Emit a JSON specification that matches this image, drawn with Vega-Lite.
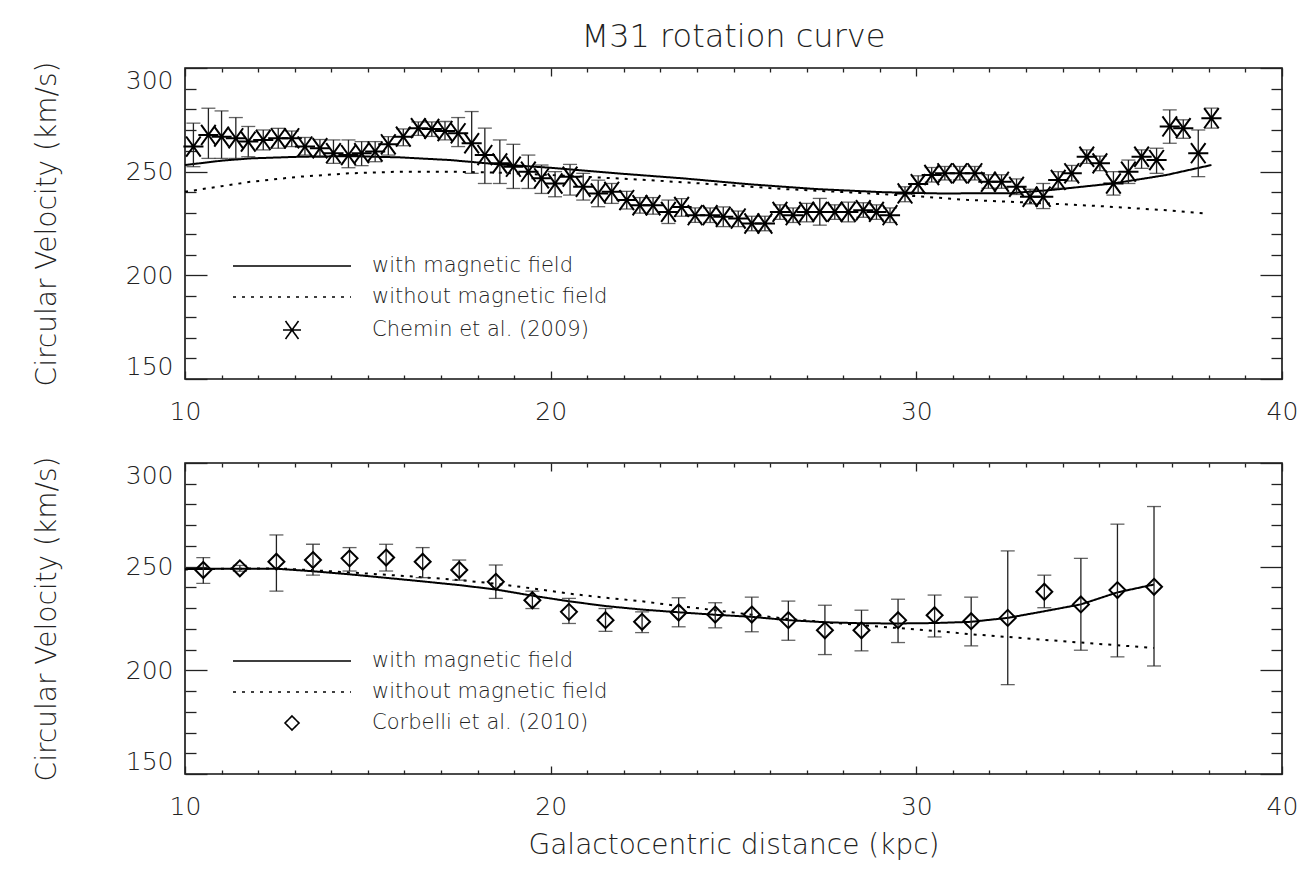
{
  "$schema": "https://vega.github.io/schema/vega-lite/v6.json",
  "background": "white",
  "padding": {"left": 32, "top": 21, "right": 2, "bottom": 0},
  "title": {"text": "M31 rotation curve", "fontSize": 32, "font": "DejaVu Sans", "fontWeight": 200, "color": "#222", "anchor": "middle", "frame": "group", "offset": 6},
  "spacing": 84,
  "bounds": "flush",
  "resolve": {"scale": {"shape": "independent", "strokeDash": "independent"}, "legend": {"shape": "independent", "strokeDash": "independent"}},
  "datasets": {
    "model_top": [
      {"x": 10, "v": 253.2, "series": "with magnetic field"},
      {"x": 11, "v": 255.3, "series": "with magnetic field"},
      {"x": 11.78, "v": 256.4, "series": "with magnetic field"},
      {"x": 13.15, "v": 257.2, "series": "with magnetic field"},
      {"x": 14.5, "v": 257.5, "series": "with magnetic field"},
      {"x": 15.88, "v": 256.9, "series": "with magnetic field"},
      {"x": 17.25, "v": 255.6, "series": "with magnetic field"},
      {"x": 18.6, "v": 253.5, "series": "with magnetic field"},
      {"x": 19.98, "v": 251.9, "series": "with magnetic field"},
      {"x": 21.8, "v": 249.2, "series": "with magnetic field"},
      {"x": 23.6, "v": 246.8, "series": "with magnetic field"},
      {"x": 25.45, "v": 243.9, "series": "with magnetic field"},
      {"x": 27.27, "v": 241.6, "series": "with magnetic field"},
      {"x": 29.09, "v": 240.1, "series": "with magnetic field"},
      {"x": 30.65, "v": 239.5, "series": "with magnetic field"},
      {"x": 32.56, "v": 239.6, "series": "with magnetic field"},
      {"x": 33.65, "v": 241.1, "series": "with magnetic field"},
      {"x": 35.38, "v": 244.3, "series": "with magnetic field"},
      {"x": 36.84, "v": 248.4, "series": "with magnetic field"},
      {"x": 38.07, "v": 253.2, "series": "with magnetic field"},
      {"x": 10, "v": 240.3, "series": "without magnetic field"},
      {"x": 11, "v": 243.0, "series": "without magnetic field"},
      {"x": 11.78, "v": 245.1, "series": "without magnetic field"},
      {"x": 13.15, "v": 247.6, "series": "without magnetic field"},
      {"x": 14.5, "v": 249.2, "series": "without magnetic field"},
      {"x": 15.88, "v": 250.0, "series": "without magnetic field"},
      {"x": 17.25, "v": 250.0, "series": "without magnetic field"},
      {"x": 18.6, "v": 249.5, "series": "without magnetic field"},
      {"x": 19.98, "v": 248.4, "series": "without magnetic field"},
      {"x": 20.9, "v": 247.6, "series": "without magnetic field"},
      {"x": 22.7, "v": 245.9, "series": "without magnetic field"},
      {"x": 24.5, "v": 243.9, "series": "without magnetic field"},
      {"x": 26.4, "v": 241.6, "series": "without magnetic field"},
      {"x": 28.2, "v": 240.0, "series": "without magnetic field"},
      {"x": 30.0, "v": 238.2, "series": "without magnetic field"},
      {"x": 31.37, "v": 236.4, "series": "without magnetic field"},
      {"x": 33.2, "v": 235.0, "series": "without magnetic field"},
      {"x": 35.02, "v": 233.4, "series": "without magnetic field"},
      {"x": 36.84, "v": 231.4, "series": "without magnetic field"},
      {"x": 37.9, "v": 229.8, "series": "without magnetic field"}
    ],
    "chemin": [
      {"x": 10.23, "v": 262.1, "lo": 252.4, "hi": 273.4, "series": "Chemin et al. (2009)"},
      {"x": 10.64, "v": 267.7, "lo": 256.4, "hi": 280.6, "series": "Chemin et al. (2009)"},
      {"x": 11.0, "v": 266.9, "lo": 256.4, "hi": 279.3, "series": "Chemin et al. (2009)"},
      {"x": 11.39, "v": 266.1, "lo": 256.4, "hi": 276.1, "series": "Chemin et al. (2009)"},
      {"x": 11.73, "v": 264.5, "lo": 257.2, "hi": 271.8, "series": "Chemin et al. (2009)"},
      {"x": 12.14, "v": 265.3, "lo": 260.5, "hi": 270.1, "series": "Chemin et al. (2009)"},
      {"x": 12.55, "v": 266.1, "lo": 261.3, "hi": 270.9, "series": "Chemin et al. (2009)"},
      {"x": 12.92, "v": 266.1, "lo": 262.1, "hi": 269.6, "series": "Chemin et al. (2009)"},
      {"x": 13.28, "v": 262.1, "lo": 258.0, "hi": 266.5, "series": "Chemin et al. (2009)"},
      {"x": 13.69, "v": 261.3, "lo": 257.0, "hi": 265.5, "series": "Chemin et al. (2009)"},
      {"x": 14.06, "v": 258.9, "lo": 254.0, "hi": 265.3, "series": "Chemin et al. (2009)"},
      {"x": 14.47, "v": 258.0, "lo": 251.9, "hi": 265.3, "series": "Chemin et al. (2009)"},
      {"x": 14.83, "v": 258.9, "lo": 252.9, "hi": 264.5, "series": "Chemin et al. (2009)"},
      {"x": 15.2, "v": 259.7, "lo": 254.8, "hi": 264.5, "series": "Chemin et al. (2009)"},
      {"x": 15.56, "v": 263.2, "lo": 258.0, "hi": 266.9, "series": "Chemin et al. (2009)"},
      {"x": 15.97, "v": 266.9, "lo": 262.5, "hi": 270.6, "series": "Chemin et al. (2009)"},
      {"x": 16.38, "v": 271.0, "lo": 267.5, "hi": 274.0, "series": "Chemin et al. (2009)"},
      {"x": 16.75, "v": 270.6, "lo": 267.0, "hi": 274.0, "series": "Chemin et al. (2009)"},
      {"x": 17.11, "v": 269.6, "lo": 265.3, "hi": 274.2, "series": "Chemin et al. (2009)"},
      {"x": 17.47, "v": 268.5, "lo": 262.1, "hi": 276.1, "series": "Chemin et al. (2009)"},
      {"x": 17.84, "v": 263.7, "lo": 249.2, "hi": 279.0, "series": "Chemin et al. (2009)"},
      {"x": 18.2, "v": 258.0, "lo": 244.3, "hi": 271.0, "series": "Chemin et al. (2009)"},
      {"x": 18.61, "v": 254.0, "lo": 244.3, "hi": 265.3, "series": "Chemin et al. (2009)"},
      {"x": 18.98, "v": 252.4, "lo": 241.9, "hi": 263.2, "series": "Chemin et al. (2009)"},
      {"x": 19.39, "v": 250.0, "lo": 241.9, "hi": 258.0, "series": "Chemin et al. (2009)"},
      {"x": 19.75, "v": 246.8, "lo": 239.5, "hi": 253.2, "series": "Chemin et al. (2009)"},
      {"x": 20.12, "v": 244.3, "lo": 237.9, "hi": 250.0, "series": "Chemin et al. (2009)"},
      {"x": 20.53, "v": 247.6, "lo": 238.7, "hi": 253.5, "series": "Chemin et al. (2009)"},
      {"x": 20.89, "v": 242.7, "lo": 236.3, "hi": 249.2, "series": "Chemin et al. (2009)"},
      {"x": 21.3, "v": 239.5, "lo": 233.1, "hi": 245.9, "series": "Chemin et al. (2009)"},
      {"x": 21.67, "v": 240.3, "lo": 234.7, "hi": 244.3, "series": "Chemin et al. (2009)"},
      {"x": 22.08, "v": 236.3, "lo": 232.0, "hi": 240.5, "series": "Chemin et al. (2009)"},
      {"x": 22.44, "v": 233.8, "lo": 230.0, "hi": 237.5, "series": "Chemin et al. (2009)"},
      {"x": 22.8, "v": 233.8, "lo": 229.5, "hi": 237.5, "series": "Chemin et al. (2009)"},
      {"x": 23.22, "v": 230.6, "lo": 225.0, "hi": 236.3, "series": "Chemin et al. (2009)"},
      {"x": 23.58, "v": 233.0, "lo": 228.5, "hi": 237.0, "series": "Chemin et al. (2009)"},
      {"x": 23.95, "v": 229.0, "lo": 225.5, "hi": 232.5, "series": "Chemin et al. (2009)"},
      {"x": 24.36, "v": 229.0, "lo": 225.5, "hi": 232.5, "series": "Chemin et al. (2009)"},
      {"x": 24.72, "v": 228.2, "lo": 223.5, "hi": 233.0, "series": "Chemin et al. (2009)"},
      {"x": 25.13, "v": 227.4, "lo": 223.5, "hi": 231.0, "series": "Chemin et al. (2009)"},
      {"x": 25.5, "v": 225.0, "lo": 221.5, "hi": 228.5, "series": "Chemin et al. (2009)"},
      {"x": 25.86, "v": 225.0, "lo": 221.5, "hi": 228.5, "series": "Chemin et al. (2009)"},
      {"x": 26.27, "v": 230.6, "lo": 227.0, "hi": 234.0, "series": "Chemin et al. (2009)"},
      {"x": 26.63, "v": 229.0, "lo": 225.5, "hi": 232.5, "series": "Chemin et al. (2009)"},
      {"x": 27.0, "v": 230.6, "lo": 225.8, "hi": 234.7, "series": "Chemin et al. (2009)"},
      {"x": 27.36, "v": 230.6, "lo": 224.2, "hi": 237.1, "series": "Chemin et al. (2009)"},
      {"x": 27.77, "v": 230.6, "lo": 227.0, "hi": 234.0, "series": "Chemin et al. (2009)"},
      {"x": 28.14, "v": 230.6, "lo": 225.8, "hi": 235.3, "series": "Chemin et al. (2009)"},
      {"x": 28.55, "v": 231.4, "lo": 228.0, "hi": 235.0, "series": "Chemin et al. (2009)"},
      {"x": 28.91, "v": 230.6, "lo": 227.0, "hi": 234.0, "series": "Chemin et al. (2009)"},
      {"x": 29.28, "v": 229.0, "lo": 225.5, "hi": 232.5, "series": "Chemin et al. (2009)"},
      {"x": 29.69, "v": 239.5, "lo": 235.5, "hi": 242.7, "series": "Chemin et al. (2009)"},
      {"x": 30.05, "v": 244.0, "lo": 240.0, "hi": 248.0, "series": "Chemin et al. (2009)"},
      {"x": 30.42, "v": 248.4, "lo": 245.0, "hi": 252.0, "series": "Chemin et al. (2009)"},
      {"x": 30.78, "v": 249.2, "lo": 246.0, "hi": 252.5, "series": "Chemin et al. (2009)"},
      {"x": 31.19, "v": 249.2, "lo": 246.0, "hi": 252.5, "series": "Chemin et al. (2009)"},
      {"x": 31.6, "v": 249.2, "lo": 246.0, "hi": 252.5, "series": "Chemin et al. (2009)"},
      {"x": 31.97, "v": 245.1, "lo": 242.0, "hi": 248.5, "series": "Chemin et al. (2009)"},
      {"x": 32.33, "v": 245.1, "lo": 242.0, "hi": 248.5, "series": "Chemin et al. (2009)"},
      {"x": 32.74, "v": 242.7, "lo": 239.0, "hi": 246.5, "series": "Chemin et al. (2009)"},
      {"x": 33.11, "v": 237.9, "lo": 234.5, "hi": 241.5, "series": "Chemin et al. (2009)"},
      {"x": 33.47, "v": 237.9, "lo": 232.2, "hi": 244.3, "series": "Chemin et al. (2009)"},
      {"x": 33.88, "v": 246.0, "lo": 242.0, "hi": 250.0, "series": "Chemin et al. (2009)"},
      {"x": 34.25, "v": 249.2, "lo": 245.5, "hi": 253.0, "series": "Chemin et al. (2009)"},
      {"x": 34.66, "v": 257.2, "lo": 254.0, "hi": 260.5, "series": "Chemin et al. (2009)"},
      {"x": 35.02, "v": 254.0, "lo": 250.5, "hi": 257.5, "series": "Chemin et al. (2009)"},
      {"x": 35.39, "v": 244.3, "lo": 238.7, "hi": 250.0, "series": "Chemin et al. (2009)"},
      {"x": 35.8, "v": 250.0, "lo": 244.3, "hi": 255.6, "series": "Chemin et al. (2009)"},
      {"x": 36.16, "v": 257.2, "lo": 251.6, "hi": 260.5, "series": "Chemin et al. (2009)"},
      {"x": 36.57, "v": 255.6, "lo": 249.2, "hi": 261.3, "series": "Chemin et al. (2009)"},
      {"x": 36.93, "v": 271.8, "lo": 263.7, "hi": 279.8, "series": "Chemin et al. (2009)"},
      {"x": 37.3, "v": 271.0, "lo": 266.1, "hi": 275.0, "series": "Chemin et al. (2009)"},
      {"x": 37.71, "v": 258.9, "lo": 247.6, "hi": 270.1, "series": "Chemin et al. (2009)"},
      {"x": 38.07, "v": 275.8, "lo": 271.0, "hi": 280.6, "series": "Chemin et al. (2009)"}
    ],
    "model_bot": [
      {"x": 10, "v": 248.8, "series": "with magnetic field"},
      {"x": 11, "v": 249.0, "series": "with magnetic field"},
      {"x": 12.5, "v": 249.0, "series": "with magnetic field"},
      {"x": 13.5, "v": 247.8, "series": "with magnetic field"},
      {"x": 14.5, "v": 246.3, "series": "with magnetic field"},
      {"x": 15.5, "v": 244.6, "series": "with magnetic field"},
      {"x": 16.5, "v": 242.9, "series": "with magnetic field"},
      {"x": 17.5, "v": 241.1, "series": "with magnetic field"},
      {"x": 18.5, "v": 239.0, "series": "with magnetic field"},
      {"x": 19.5, "v": 236.0, "series": "with magnetic field"},
      {"x": 20.5, "v": 233.3, "series": "with magnetic field"},
      {"x": 21.5, "v": 231.0, "series": "with magnetic field"},
      {"x": 22.5, "v": 229.3, "series": "with magnetic field"},
      {"x": 23.5, "v": 228.0, "series": "with magnetic field"},
      {"x": 24.5, "v": 226.8, "series": "with magnetic field"},
      {"x": 25.5, "v": 225.8, "series": "with magnetic field"},
      {"x": 26.5, "v": 224.2, "series": "with magnetic field"},
      {"x": 27.5, "v": 223.2, "series": "with magnetic field"},
      {"x": 28.5, "v": 222.7, "series": "with magnetic field"},
      {"x": 29.5, "v": 222.6, "series": "with magnetic field"},
      {"x": 30.5, "v": 222.8, "series": "with magnetic field"},
      {"x": 31.5, "v": 223.4, "series": "with magnetic field"},
      {"x": 32.5, "v": 225.3, "series": "with magnetic field"},
      {"x": 33.5, "v": 228.5, "series": "with magnetic field"},
      {"x": 34.5, "v": 231.8, "series": "with magnetic field"},
      {"x": 35.5, "v": 237.6, "series": "with magnetic field"},
      {"x": 36.5, "v": 241.4, "series": "with magnetic field"},
      {"x": 10, "v": 248.8, "series": "without magnetic field"},
      {"x": 12.5, "v": 249.2, "series": "without magnetic field"},
      {"x": 13.5, "v": 248.3, "series": "without magnetic field"},
      {"x": 14.5, "v": 247.2, "series": "without magnetic field"},
      {"x": 15.5, "v": 246.1, "series": "without magnetic field"},
      {"x": 16.5, "v": 244.9, "series": "without magnetic field"},
      {"x": 17.5, "v": 243.5, "series": "without magnetic field"},
      {"x": 18.5, "v": 241.8, "series": "without magnetic field"},
      {"x": 19.5, "v": 239.5, "series": "without magnetic field"},
      {"x": 20.5, "v": 237.0, "series": "without magnetic field"},
      {"x": 21.5, "v": 235.0, "series": "without magnetic field"},
      {"x": 22.5, "v": 233.3, "series": "without magnetic field"},
      {"x": 23.5, "v": 231.0, "series": "without magnetic field"},
      {"x": 24.5, "v": 229.0, "series": "without magnetic field"},
      {"x": 25.5, "v": 226.8, "series": "without magnetic field"},
      {"x": 26.5, "v": 224.8, "series": "without magnetic field"},
      {"x": 27.5, "v": 223.2, "series": "without magnetic field"},
      {"x": 28.5, "v": 221.8, "series": "without magnetic field"},
      {"x": 29.5, "v": 220.4, "series": "without magnetic field"},
      {"x": 30.5, "v": 219.0, "series": "without magnetic field"},
      {"x": 31.5, "v": 217.4, "series": "without magnetic field"},
      {"x": 32.5, "v": 216.1, "series": "without magnetic field"},
      {"x": 33.5, "v": 214.7, "series": "without magnetic field"},
      {"x": 34.5, "v": 213.4, "series": "without magnetic field"},
      {"x": 35.5, "v": 212.1, "series": "without magnetic field"},
      {"x": 36.5, "v": 210.8, "series": "without magnetic field"}
    ],
    "corbelli": [
      {"x": 10.5, "v": 248.4, "lo": 241.9, "hi": 254.4, "series": "Corbelli et al. (2010)"},
      {"x": 11.5, "v": 249.2, "lo": 247.8, "hi": 250.6, "series": "Corbelli et al. (2010)"},
      {"x": 12.5, "v": 252.4, "lo": 238.2, "hi": 265.3, "series": "Corbelli et al. (2010)"},
      {"x": 13.5, "v": 253.2, "lo": 245.9, "hi": 260.8, "series": "Corbelli et al. (2010)"},
      {"x": 14.5, "v": 254.0, "lo": 247.9, "hi": 259.2, "series": "Corbelli et al. (2010)"},
      {"x": 15.5, "v": 254.4, "lo": 247.9, "hi": 260.8, "series": "Corbelli et al. (2010)"},
      {"x": 16.5, "v": 252.4, "lo": 244.7, "hi": 259.2, "series": "Corbelli et al. (2010)"},
      {"x": 17.5, "v": 248.4, "lo": 243.5, "hi": 253.2, "series": "Corbelli et al. (2010)"},
      {"x": 18.5, "v": 242.7, "lo": 234.7, "hi": 250.8, "series": "Corbelli et al. (2010)"},
      {"x": 19.5, "v": 233.8, "lo": 229.8, "hi": 238.2, "series": "Corbelli et al. (2010)"},
      {"x": 20.5, "v": 228.2, "lo": 222.6, "hi": 234.7, "series": "Corbelli et al. (2010)"},
      {"x": 21.5, "v": 224.2, "lo": 218.8, "hi": 229.8, "series": "Corbelli et al. (2010)"},
      {"x": 22.5, "v": 223.4, "lo": 218.2, "hi": 228.2, "series": "Corbelli et al. (2010)"},
      {"x": 23.5, "v": 227.9, "lo": 221.0, "hi": 235.0, "series": "Corbelli et al. (2010)"},
      {"x": 24.5, "v": 226.9, "lo": 220.5, "hi": 232.6, "series": "Corbelli et al. (2010)"},
      {"x": 25.5, "v": 226.9, "lo": 218.6, "hi": 235.3, "series": "Corbelli et al. (2010)"},
      {"x": 26.5, "v": 224.2, "lo": 214.5, "hi": 233.4, "series": "Corbelli et al. (2010)"},
      {"x": 27.5, "v": 219.3, "lo": 207.6, "hi": 231.4, "series": "Corbelli et al. (2010)"},
      {"x": 28.5, "v": 219.3, "lo": 209.4, "hi": 229.0, "series": "Corbelli et al. (2010)"},
      {"x": 29.5, "v": 224.2, "lo": 213.4, "hi": 234.3, "series": "Corbelli et al. (2010)"},
      {"x": 30.5, "v": 226.6, "lo": 216.1, "hi": 236.3, "series": "Corbelli et al. (2010)"},
      {"x": 31.5, "v": 223.7, "lo": 211.8, "hi": 235.3, "series": "Corbelli et al. (2010)"},
      {"x": 32.5, "v": 225.3, "lo": 193.1, "hi": 257.6, "series": "Corbelli et al. (2010)"},
      {"x": 33.5, "v": 237.9, "lo": 230.2, "hi": 245.9, "series": "Corbelli et al. (2010)"},
      {"x": 34.5, "v": 231.8, "lo": 209.7, "hi": 254.0, "series": "Corbelli et al. (2010)"},
      {"x": 35.5, "v": 238.7, "lo": 206.5, "hi": 270.5, "series": "Corbelli et al. (2010)"},
      {"x": 36.5, "v": 240.3, "lo": 202.1, "hi": 279.0, "series": "Corbelli et al. (2010)"}
    ]
  },
  "vconcat": [
    {
      "width": 1097,
      "height": 311,
      "layer": [
        {
          "data": {"name": "model_top"},
          "mark": {"type": "line", "color": "black", "strokeWidth": 2},
          "encoding": {
            "x": {"field": "x", "type": "quantitative", "scale": {"domain": [10, 40], "nice": false, "zero": false},
                  "axis": {"orient": "bottom", "values": [10, 20, 30, 40], "ticks": false, "labelFlush": false, "labelPadding": 20, "title": null}},
            "y": {"field": "v", "type": "quantitative", "scale": {"domain": [150, 300], "nice": false, "zero": false},
                  "axis": {"orient": "left", "values": [150, 200, 250, 300], "ticks": false, "labelFlush": true, "labelPadding": 12, "title": "Circular Velocity (km/s)", "titlePadding": 64}},
            "strokeDash": {"field": "series", "type": "nominal",
                  "scale": {"domain": ["with magnetic field", "without magnetic field", "Chemin et al. (2009)"], "range": [[1, 0], [3, 6], [1, 0]]},
                  "legend": {"title": null}}
          }
        },
        {
          "data": {"name": "chemin"},
          "mark": {"type": "rule", "color": "#222", "strokeWidth": 1.3},
          "encoding": {
            "x": {"field": "x", "type": "quantitative", "scale": {"domain": [10, 40], "nice": false, "zero": false},
                  "axis": {"orient": "bottom", "values": [10, 20, 30, 40], "labels": false, "tickSize": 8, "offset": -8, "title": null}},
            "y": {"field": "lo", "type": "quantitative", "scale": {"domain": [150, 300], "nice": false, "zero": false},
                  "axis": {"orient": "left", "values": [150, 200, 250, 300], "labels": false, "tickSize": 22, "offset": -22, "title": null}},
            "y2": {"field": "hi"}
          }
        },
        {
          "data": {"name": "chemin"},
          "mark": {"type": "tick", "orient": "horizontal", "size": 14, "thickness": 1.3, "color": "#222"},
          "encoding": {
            "x": {"field": "x", "type": "quantitative", "scale": {"domain": [10, 40], "nice": false, "zero": false},
                  "axis": {"orient": "bottom", "values": [11, 12, 13, 14, 15, 16, 17, 18, 19, 21, 22, 23, 24, 25, 26, 27, 28, 29, 31, 32, 33, 34, 35, 36, 37, 38, 39], "labels": false, "tickSize": 4, "offset": -4, "title": null}},
            "y": {"field": "lo", "type": "quantitative", "scale": {"domain": [150, 300], "nice": false, "zero": false},
                  "axis": {"orient": "left", "values": [160, 170, 180, 190, 210, 220, 230, 240, 260, 270, 280, 290], "labels": false, "tickSize": 11, "offset": -11, "title": null}}
          }
        },
        {
          "data": {"name": "chemin"},
          "mark": {"type": "tick", "orient": "horizontal", "size": 14, "thickness": 1.3, "color": "#222"},
          "encoding": {
            "x": {"field": "x", "type": "quantitative", "scale": {"domain": [10, 40], "nice": false, "zero": false},
                  "axis": {"orient": "top", "values": [10, 20, 30, 40], "labels": false, "tickSize": 8, "offset": -8, "title": null}},
            "y": {"field": "hi", "type": "quantitative", "scale": {"domain": [150, 300], "nice": false, "zero": false},
                  "axis": {"orient": "right", "values": [150, 200, 250, 300], "labels": false, "tickSize": 22, "offset": -22, "title": null}}
          }
        },
        {
          "data": {"name": "chemin"},
          "mark": {"type": "point", "filled": false, "size": 500, "strokeWidth": 2, "color": "black", "opacity": 1},
          "encoding": {
            "x": {"field": "x", "type": "quantitative", "scale": {"domain": [10, 40], "nice": false, "zero": false},
                  "axis": {"orient": "top", "values": [11, 12, 13, 14, 15, 16, 17, 18, 19, 21, 22, 23, 24, 25, 26, 27, 28, 29, 31, 32, 33, 34, 35, 36, 37, 38, 39], "labels": false, "tickSize": 4, "offset": -4, "title": null}},
            "y": {"field": "v", "type": "quantitative", "scale": {"domain": [150, 300], "nice": false, "zero": false},
                  "axis": {"orient": "right", "values": [160, 170, 180, 190, 210, 220, 230, 240, 260, 270, 280, 290], "labels": false, "tickSize": 11, "offset": -11, "title": null}},
            "shape": {"field": "series", "type": "nominal",
                  "scale": {"domain": ["with magnetic field", "without magnetic field", "Chemin et al. (2009)"], "range": ["M-5.9,0H5.9", "M-5.9,0H5.9", "M-0.9,0H0.9M-0.65,-0.9L0.65,0.9M-0.65,0.9L0.65,-0.9"]},
                  "legend": {"title": null}}
          }
        }
      ],
      "resolve": {"axis": {"x": "independent", "y": "independent"}}
    },
    {
      "width": 1097,
      "height": 311,
      "layer": [
        {
          "data": {"name": "model_bot"},
          "mark": {"type": "line", "color": "black", "strokeWidth": 2},
          "encoding": {
            "x": {"field": "x", "type": "quantitative", "scale": {"domain": [10, 40], "nice": false, "zero": false},
                  "axis": {"orient": "bottom", "values": [10, 20, 30, 40], "ticks": false, "labelFlush": false, "labelPadding": 20, "title": "Galactocentric distance (kpc)", "titlePadding": 12}},
            "y": {"field": "v", "type": "quantitative", "scale": {"domain": [150, 300], "nice": false, "zero": false},
                  "axis": {"orient": "left", "values": [150, 200, 250, 300], "ticks": false, "labelFlush": true, "labelPadding": 12, "title": "Circular Velocity (km/s)", "titlePadding": 64}},
            "strokeDash": {"field": "series", "type": "nominal",
                  "scale": {"domain": ["with magnetic field", "without magnetic field", "Corbelli et al. (2010)"], "range": [[1, 0], [3, 6], [1, 0]]},
                  "legend": {"title": null}}
          }
        },
        {
          "data": {"name": "corbelli"},
          "mark": {"type": "rule", "color": "#222", "strokeWidth": 1.3},
          "encoding": {
            "x": {"field": "x", "type": "quantitative", "scale": {"domain": [10, 40], "nice": false, "zero": false},
                  "axis": {"orient": "bottom", "values": [10, 20, 30, 40], "labels": false, "tickSize": 8, "offset": -8, "title": null}},
            "y": {"field": "lo", "type": "quantitative", "scale": {"domain": [150, 300], "nice": false, "zero": false},
                  "axis": {"orient": "left", "values": [150, 200, 250, 300], "labels": false, "tickSize": 22, "offset": -22, "title": null}},
            "y2": {"field": "hi"}
          }
        },
        {
          "data": {"name": "corbelli"},
          "mark": {"type": "tick", "orient": "horizontal", "size": 14, "thickness": 1.3, "color": "#222"},
          "encoding": {
            "x": {"field": "x", "type": "quantitative", "scale": {"domain": [10, 40], "nice": false, "zero": false},
                  "axis": {"orient": "bottom", "values": [11, 12, 13, 14, 15, 16, 17, 18, 19, 21, 22, 23, 24, 25, 26, 27, 28, 29, 31, 32, 33, 34, 35, 36, 37, 38, 39], "labels": false, "tickSize": 4, "offset": -4, "title": null}},
            "y": {"field": "lo", "type": "quantitative", "scale": {"domain": [150, 300], "nice": false, "zero": false},
                  "axis": {"orient": "left", "values": [160, 170, 180, 190, 210, 220, 230, 240, 260, 270, 280, 290], "labels": false, "tickSize": 11, "offset": -11, "title": null}}
          }
        },
        {
          "data": {"name": "corbelli"},
          "mark": {"type": "tick", "orient": "horizontal", "size": 14, "thickness": 1.3, "color": "#222"},
          "encoding": {
            "x": {"field": "x", "type": "quantitative", "scale": {"domain": [10, 40], "nice": false, "zero": false},
                  "axis": {"orient": "top", "values": [10, 20, 30, 40], "labels": false, "tickSize": 8, "offset": -8, "title": null}},
            "y": {"field": "hi", "type": "quantitative", "scale": {"domain": [150, 300], "nice": false, "zero": false},
                  "axis": {"orient": "right", "values": [150, 200, 250, 300], "labels": false, "tickSize": 22, "offset": -22, "title": null}}
          }
        },
        {
          "data": {"name": "corbelli"},
          "mark": {"type": "point", "filled": false, "size": 520, "strokeWidth": 2, "color": "black", "opacity": 1},
          "encoding": {
            "x": {"field": "x", "type": "quantitative", "scale": {"domain": [10, 40], "nice": false, "zero": false},
                  "axis": {"orient": "top", "values": [11, 12, 13, 14, 15, 16, 17, 18, 19, 21, 22, 23, 24, 25, 26, 27, 28, 29, 31, 32, 33, 34, 35, 36, 37, 38, 39], "labels": false, "tickSize": 4, "offset": -4, "title": null}},
            "y": {"field": "v", "type": "quantitative", "scale": {"domain": [150, 300], "nice": false, "zero": false},
                  "axis": {"orient": "right", "values": [160, 170, 180, 190, 210, 220, 230, 240, 260, 270, 280, 290], "labels": false, "tickSize": 11, "offset": -11, "title": null}},
            "shape": {"field": "series", "type": "nominal",
                  "scale": {"domain": ["with magnetic field", "without magnetic field", "Corbelli et al. (2010)"], "range": ["M-5.9,0H5.9", "M-5.9,0H5.9", "M0,-0.7L0.7,0L0,0.7L-0.7,0Z"]},
                  "legend": {"title": null}}
          }
        }
      ],
      "resolve": {"axis": {"x": "independent", "y": "independent"}}
    }
  ],
  "config": {
    "font": "DejaVu Sans",
    "view": {"stroke": "#111", "strokeWidth": 1.6},
    "axis": {"grid": false, "domain": false, "labelFont": "DejaVu Sans", "labelFontSize": 25, "labelFontWeight": 200, "labelColor": "#222", "tickColor": "#222", "tickWidth": 1.3, "titleFont": "DejaVu Sans", "titleFontSize": 28, "titleFontWeight": 200, "titleColor": "#222"},
    "legend": {"orient": "none", "legendX": 48, "legendY": 187, "padding": 0, "labelFont": "DejaVu Sans", "labelFontSize": 21, "labelFontWeight": 200, "labelColor": "#222", "labelLimit": 0, "symbolSize": 400, "symbolOffset": 48, "labelOffset": 69, "rowPadding": 10, "symbolStrokeColor": "black", "symbolStrokeWidth": 1.6, "symbolFillColor": "transparent"}
  }
}
